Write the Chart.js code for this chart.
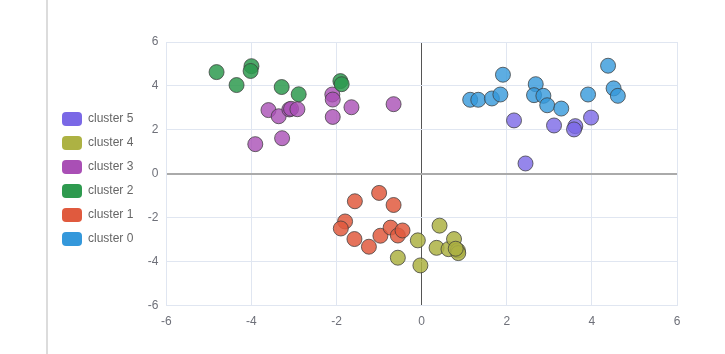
<!DOCTYPE html>
<html>
<head>
<meta charset="utf-8">
<script src="https://cdn.jsdelivr.net/npm/chart.js@4/dist/chart.umd.min.js"></script>
<style>
  html, body { margin: 0; padding: 0; background: #fff; }
  #wrap { position: relative; width: 725px; height: 354px; }
  #side { position: absolute; left: 46px; top: 0; width: 2px; height: 354px; background: #dcdcdc; }
</style>
</head>
<body>
<div id="wrap">
  <div id="side"></div>
  <canvas id="clusterChart" width="725" height="354"></canvas>
</div>
<script>
// * data cluster
const clusterNames = ["cluster 0", "cluster 1", "cluster 2", "cluster 3", "cluster 4", "cluster 5"];
const clusterColor = ["#3498db", "#e05a3e", "#2e9a4f", "#a94fb5", "#adb243", "#7a68e6"];
const clusterFill = [
  "rgba(52,152,219,0.8)",
  "rgba(224,90,62,0.85)",
  "rgba(46,154,79,0.85)",
  "rgba(169,79,181,0.8)",
  "rgba(173,178,67,0.85)",
  "rgba(122,104,230,0.8)",
];
const axisTicks = [-6, -4, -2, 0, 2, 4, 6];

const cluster0 = [
  [1.14, 3.37], [1.33, 3.37], [1.65, 3.43], [1.85, 3.61], [1.91, 4.51],
  [2.68, 4.08], [2.64, 3.58], [2.86, 3.55], [2.95, 3.12], [3.28, 2.97],
  [3.91, 3.61], [4.38, 4.92], [4.51, 3.89], [4.61, 3.55],
];
const cluster1 = [
  [-1.57, -1.25], [-1.0, -0.87], [-0.66, -1.42], [-1.8, -2.17], [-1.9, -2.49],
  [-1.58, -2.97], [-1.24, -3.32], [-0.97, -2.82], [-0.73, -2.45], [-0.56, -2.81],
  [-0.45, -2.58],
];
const cluster2 = [
  [-4.82, 4.63], [-4.35, 4.04], [-4.0, 4.9], [-4.02, 4.68], [-3.29, 3.95],
  [-2.89, 3.62], [-1.91, 4.22], [-1.88, 4.08],
];
const cluster3 = [
  [-3.6, 2.9], [-3.36, 2.62], [-3.11, 2.93], [-3.07, 2.96], [-2.92, 2.94],
  [-2.1, 3.61], [-2.09, 3.38], [-2.09, 2.59], [-1.65, 3.03], [-3.91, 1.35],
  [-3.28, 1.62], [-0.66, 3.17],
];
const cluster4 = [
  [-0.09, -3.03], [-0.56, -3.82], [-0.03, -4.17], [0.42, -2.36], [0.35, -3.37],
  [0.63, -3.43], [0.76, -2.97], [0.85, -3.49], [0.86, -3.61], [0.8, -3.41],
];
const cluster5 = [
  [2.17, 2.43], [2.44, 0.47], [3.11, 2.2], [3.61, 2.17], [3.58, 2.02], [3.98, 2.56],
];
const allCluster = [cluster0, cluster1, cluster2, cluster3, cluster4, cluster5];

const gridColor = "#e0e6f1";
const tickColor = "#6e7079";
const fontFam = "'Liberation Sans', Arial, sans-serif";

// ? ubah ke dataset
const clusterData = {
  datasets: allCluster.map((c, i) => ({
    label: clusterNames[i],
    data: c.map((p) => ({ x: p[0], y: p[1] })),
    backgroundColor: clusterFill[i],
    borderColor: "rgba(60,60,60,0.75)",
    borderWidth: 1,
    pointRadius: 7.5,
    pointHoverRadius: 7.5,
    legendColor: clusterColor[i],
  })),
};

const scatterChart = new Chart(document.getElementById("clusterChart").getContext("2d"), {
  type: "scatter",
  data: clusterData,
  options: {
    responsive: false,
    animation: false,
    layout: { padding: { left: 52, top: 42, right: 48, bottom: 16 } },
    plugins: {
      tooltip: { enabled: false },
      legend: {
        position: "left",
        align: "start",
        reverse: true,
        title: {
          display: true,
          text: " ",
          font: { family: fontFam, size: 12 },
          padding: { top: 0, bottom: 45.6 },
        },
        labels: {
          boxWidth: 20,
          boxHeight: 14,
          padding: 10,
          useBorderRadius: true,
          borderRadius: 4,
          color: "#333",
          font: { family: fontFam, size: 12 },
          generateLabels: (chart) =>
            chart.data.datasets.map((ds, i) => ({
              text: ds.label,
              fillStyle: ds.legendColor,
              strokeStyle: ds.legendColor,
              lineWidth: 0,
              borderRadius: 4,
              datasetIndex: i,
              hidden: false,
            })),
        },
      },
    },
    scales: {
      x: {
        type: "linear",
        min: -6,
        max: 6,
        afterBuildTicks: (scale) => {
          scale.ticks = axisTicks.map((v) => ({ value: v }));
        },
        grid: {
          drawTicks: false,
          color: (ctx) => (ctx.tick && ctx.tick.value === 0 ? "#555" : gridColor),
          lineWidth: 1,
        },
        border: { display: true, color: gridColor },
        ticks: {
          padding: 9,
          color: tickColor,
          font: { family: fontFam, size: 12 },
        },
      },
      y: {
        type: "linear",
        min: -6,
        max: 6,
        afterBuildTicks: (scale) => {
          scale.ticks = axisTicks.map((v) => ({ value: v }));
        },
        afterFit: (scale) => {
          scale.width = 23;
        },
        grid: {
          drawTicks: false,
          color: (ctx) => (ctx.tick && ctx.tick.value === 0 ? "#aaa" : gridColor),
          lineWidth: (ctx) => (ctx.tick && ctx.tick.value === 0 ? 2 : 1),
        },
        border: { display: true, color: gridColor },
        ticks: {
          padding: 8,
          color: tickColor,
          font: { family: fontFam, size: 12 },
        },
      },
    },
  },
});
</script>
</body>
</html>
